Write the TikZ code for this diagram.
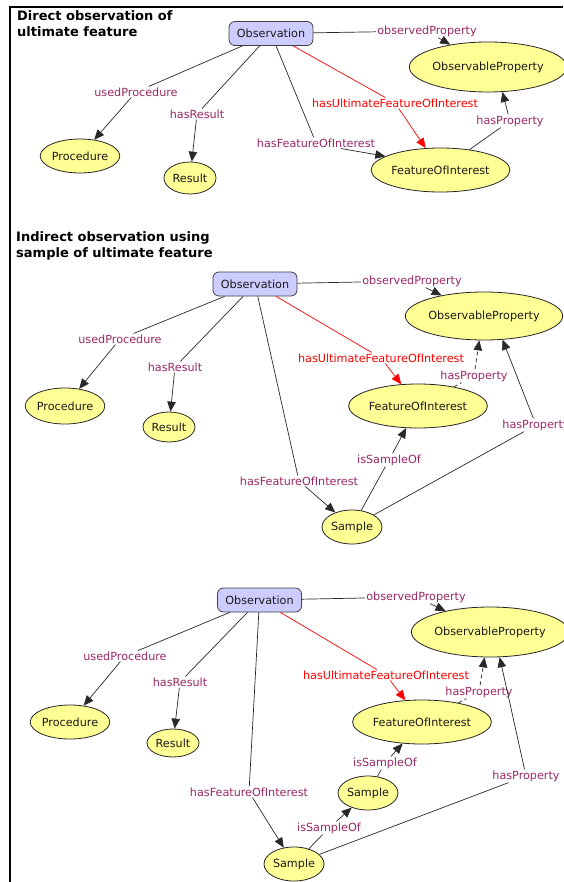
\documentclass[tikz,border=0pt]{standalone}
\usepackage{fontspec}
\setmainfont{DejaVu Sans}
\usetikzlibrary{arrows.meta,shapes.geometric}
\definecolor{lbl}{RGB}{153,40,100}
\definecolor{ellfill}{RGB}{255,255,150}
\definecolor{obsfill}{RGB}{204,204,255}
\definecolor{edge}{RGB}{40,40,40}
\begin{document}
\begin{tikzpicture}[x=1pt,y=-1pt,
  every node/.style={font=\fontsize{11.2}{13}\selectfont},
  cls/.style={ellipse,draw=black!85,fill=ellfill,inner sep=0pt,line width=0.8pt,text=black!90},
  obsbox/.style={rectangle,rounded corners=6pt,draw=black!75,fill=obsfill,minimum width=84pt,minimum height=24pt,inner sep=0pt,line width=0.8pt,text=black!90},
  lab/.style={text=lbl,inner sep=1pt},
  rlab/.style={text=red,inner sep=1pt},
  conn/.style={draw=edge,line width=0.7pt},
  arr/.style={conn,-{Triangle[length=10pt,width=8.5pt]}},
  rconn/.style={draw=red,line width=0.7pt},
  rarr/.style={rconn,-{Triangle[length=10pt,width=8.5pt]}},
  dsh/.style={dash pattern=on 4pt off 3pt},
  ttl/.style={font=\fontsize{13}{16}\selectfont\bfseries,align=left,anchor=north west,inner sep=0pt}
]
\useasboundingbox (0,0) rectangle (563,882);
\fill[white] (0,0) rectangle (563,882);
\draw[line width=1.5pt] (10,882) -- (10,7) -- (563,7);

% ---------- Section 1 ----------
\node[ttl] (t1) at (17,10) {Direct observation of\\ultimate feature};
\node[obsbox] (obsA) at (271,33.5) {Observation};
\node[cls,minimum width=122pt,minimum height=50pt] (opA) at (488,67) {ObservableProperty};
\node[cls,minimum width=72pt,minimum height=34pt] (procA) at (80,156) {Procedure};
\node[cls,minimum width=52pt,minimum height=32pt] (resA) at (190,178) {Result};
\node[cls,minimum width=117pt,minimum height=44pt] (foiA) at (440.5,170) {FeatureOfInterest};
\node[lab] (lopA) at (427,31) {observedProperty};
\node[lab] (lupA) at (136,92) {usedProcedure};
\node[lab] (lhrA) at (197,114) {hasResult};
\node[lab] (lfoiA) at (316,143) {hasFeatureOfInterest};
\node[rlab] (lultA) at (395,103) {hasUltimateFeatureOfInterest};
\node[lab] (lhpA) at (510,121) {hasProperty};
\draw[conn] (obsA) -- (lopA); \draw[arr] (lopA) -- (opA);
\draw[conn] (obsA) -- (lupA); \draw[arr] (lupA) -- (procA);
\draw[conn] (obsA) -- (lhrA); \draw[arr] (lhrA) -- (resA);
\draw[conn] (obsA) -- (lfoiA); \draw[arr] ([xshift=25pt]lfoiA.south) -- (foiA.166);
\draw[rconn] (obsA) -- (lultA); \draw[rarr] (lultA) -- (foiA);
\draw[conn] (foiA) -- (lhpA); \draw[arr] (lhpA) -- (opA.-60);

% ---------- Section 2 ----------
\node[ttl] (t2) at (16,231) {Indirect observation using\\sample of ultimate feature};
\node[obsbox] (obsB) at (255,284) {Observation};
\node[cls,minimum width=130pt,minimum height=48pt] (opB) at (484,316) {ObservableProperty};
\node[cls,minimum width=74pt,minimum height=36pt] (procB) at (65,406) {Procedure};
\node[cls,minimum width=52pt,minimum height=30pt] (resB) at (169,427) {Result};
\node[cls,minimum width=118pt,minimum height=44pt] (foiB) at (418,406) {FeatureOfInterest};
\node[cls,minimum width=60pt,minimum height=34pt] (smpB) at (352,527) {Sample};
\node[lab] (lopB) at (412,281) {observedProperty};
\node[lab] (lupB) at (120,339) {usedProcedure};
\node[lab] (lhrB) at (175,367) {hasResult};
\node[rlab] (lultB) at (381,358) {hasUltimateFeatureOfInterest};
\node[lab] (lhpdB) at (474,376) {hasProperty};
\node[lab] (lhp2B) at (536,425) {hasProperty};
\node[lab] (lisoB) at (389,460) {isSampleOf};
\node[lab] (lfoiB) at (299,481) {hasFeatureOfInterest};
\draw[conn] (obsB) -- (lopB); \draw[arr] (lopB) -- (opB);
\draw[conn] (obsB) -- (lupB); \draw[arr] (lupB) -- (procB);
\draw[conn] (obsB) -- (lhrB); \draw[arr] (lhrB) -- (resB);
\draw[conn] (obsB) -- (lfoiB); \draw[arr] (lfoiB) -- (smpB);
\draw[rconn] (obsB) -- (lultB); \draw[rarr] (lultB) -- (foiB);
\draw[conn,dsh] (foiB) -- (lhpdB); \draw[arr,dsh] (lhpdB) -- (opB.259);
\draw[conn] (smpB) -- (lisoB); \draw[arr] (lisoB) -- (foiB);
\draw[conn] (smpB) -- (lhp2B); \draw[arr] (lhp2B) -- (opB.-52);

% ---------- Section 3 ----------
\node[obsbox] (obsC) at (259.5,600) {Observation};
\node[cls,minimum width=130pt,minimum height=50pt] (opC) at (490,632) {ObservableProperty};
\node[cls,minimum width=74pt,minimum height=34pt] (procC) at (70,722) {Procedure};
\node[cls,minimum width=52pt,minimum height=28pt] (resC) at (173,743) {Result};
\node[cls,minimum width=118pt,minimum height=44pt] (foiC) at (422,722) {FeatureOfInterest};
\node[cls,minimum width=60pt,minimum height=34pt] (s1C) at (368,793) {Sample};
\node[cls,minimum width=60pt,minimum height=34pt] (s2C) at (294,864) {Sample};
\node[lab] (lopC) at (416,597) {observedProperty};
\node[lab] (lupC) at (125,656) {usedProcedure};
\node[lab] (lhrC) at (180,682) {hasResult};
\node[rlab] (lultC) at (386,675) {hasUltimateFeatureOfInterest};
\node[lab] (lhpdC) at (479,692) {hasProperty};
\node[lab] (liso1C) at (385,763) {isSampleOf};
\node[lab] (lfoiC) at (249,792) {hasFeatureOfInterest};
\node[lab] (liso2C) at (329,828) {isSampleOf};
\node[lab] (lhp2C) at (526,776) {hasProperty};
\draw[conn] (obsC) -- (lopC); \draw[arr] (lopC) -- (opC);
\draw[conn] (obsC) -- (lupC); \draw[arr] (lupC) -- (procC);
\draw[conn] (obsC) -- (lhrC); \draw[arr] (lhrC) -- (resC);
\draw[conn] (obsC) -- (lfoiC); \draw[arr] (lfoiC) -- (s2C);
\draw[rconn] (obsC) -- (lultC); \draw[rarr] (lultC) -- (foiC);
\draw[conn,dsh] (foiC) -- (lhpdC); \draw[arr,dsh] (lhpdC) -- (opC.258);
\draw[conn] (s1C) -- (liso1C); \draw[arr] (liso1C) -- (foiC);
\draw[conn] (s2C) -- (liso2C); \draw[arr] (liso2C) -- (s1C);
\draw[conn] (s2C) -- (lhp2C); \draw[arr] (lhp2C) -- (opC.-69);
\end{tikzpicture}
\end{document}
